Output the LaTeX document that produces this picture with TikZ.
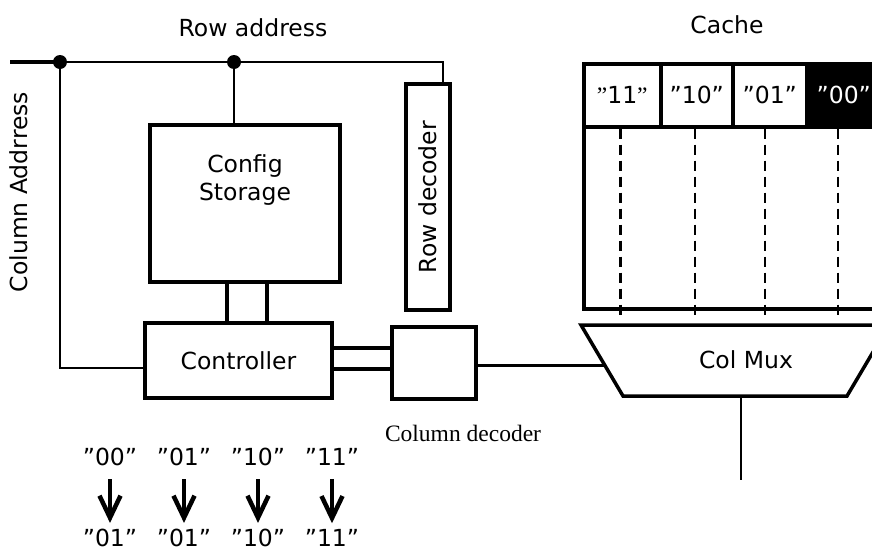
\documentclass[tikz,border=0pt]{standalone}
\usepackage{fontspec}
\setmainfont{DejaVu Sans}
\newfontfamily\serifface{Liberation Serif}
\usetikzlibrary{arrows.meta,positioning,shapes.geometric}

\begin{document}
\begin{tikzpicture}[
  x=1pt, y=-1pt,
  font=\fontsize{23.5}{28}\selectfont,
  box/.style  ={rectangle, draw, line width=3.5pt, inner sep=0pt, align=center},
  cell/.style ={rectangle, draw, line width=3.5pt, minimum height=63pt, inner sep=0pt,
                anchor=north west},
  wire/.style ={line width=2pt},
  bus/.style  ={line width=3.5pt},
  jdot/.style ={circle, fill, inner sep=0pt, minimum size=14pt},
  code/.style ={inner sep=1pt},
  remap/.style={-{Straight Barb[length=22pt,width=21pt,line width=4.5pt]}, line width=4.5pt,
                shorten <=12pt, shorten >=5pt}
]
\clip (0,0) rectangle (872,552);

% labels
\node (rowlbl)   at (253,28) {Row address};
\node (cachelbl) at (727,25) {Cache};
\node[rotate=90] (collbl) at (19,192) {Column Addrress};

% blocks
\node[box, minimum width=190pt, minimum height=157pt,
      label={[align=center, yshift=23pt]center:Config\\Storage}] (config) at (245,203.5) {};
\node[box, minimum width=187pt, minimum height=75pt] (ctrl) at (238.5,360.5) {Controller};
\node[box, minimum width=44pt, minimum height=226pt,
      label={[rotate=90]center:Row decoder}] (rowdec) at (428,197) {};
\node[box, minimum width=84pt, minimum height=72pt] (coldec) at (434,363) {};
\node[font=\serifface\fontsize{23.5}{28}\selectfont] (coldeclbl) at (463,433) {Column decoder};

% cache
\node[box, minimum width=310pt, minimum height=182pt, anchor=north west] (array) at (582,125) {};
\node[cell, minimum width=77pt] (c11) at (582,62) {{\serifface”}11{\serifface”}};
\node[cell, minimum width=72pt] (c10) at (659,62) {”10”};
\node[cell, minimum width=74pt] (c01) at (731,62) {”01”};
\node[cell, minimum width=74pt, fill=black, text=white] (c00) at (805,62) {”00”};

% column mux
\coordinate (mtl) at (581,325);
\coordinate (mtr) at (889,325);
\coordinate (mbr) at (847,396);
\coordinate (mbl) at (623,396);
\coordinate (muxin) at (604,365);
\draw[bus, line join=miter] (mtl) -- (mtr) -- (mbr) -- (mbl) -- cycle;
\node (mux) at (746,360) {Col Mux};

\foreach \c/\dx in {c11/-2, c10/-2, c01/-5, c00/-6}
  \draw[line width=2.5pt, dash pattern=on 10pt off 6pt]
    ([xshift=\dx pt]\c.south) -- ([xshift=\dx pt, yshift=6pt]\c.south |- mtl);

% address lines
\coordinate (busin) at (10,62);
\node[jdot] (j1) at (60,62) {};
\node[jdot] (j2) at (234,62) {};
\draw[bus]  (busin) -- (j1.center);
\draw[wire] (j1.center) -| ([xshift=-9pt]rowdec.north east);
\draw[wire] (j2.center) -- (j2.center |- config.north);
\draw[wire] (j1.center) |- ([yshift=-7pt]ctrl.west);

\draw[bus] ([xshift=-18pt]config.south) -- ([xshift=-18pt]config.south |- ctrl.north);
\draw[bus] ([xshift=22pt]config.south)  -- ([xshift=22pt]config.south |- ctrl.north);
\draw[bus] ([yshift=12.5pt]ctrl.east) -- ([yshift=12.5pt]ctrl.east -| coldec.west);
\draw[bus] ([yshift=-8.5pt]ctrl.east) -- ([yshift=-8.5pt]ctrl.east -| coldec.west);
\draw[line width=3pt] (coldec.east |- muxin) -- (muxin);

\coordinate (muxout) at (741,480);
\draw[wire] (muxout |- mbl) -- (muxout);

% remapping
\foreach \a/\b [count=\i] in {00/01, 01/01, 10/10, 11/11} {
  \node[code] (old\i) at ({36+74*\i},457) {”\a”};
  \node[code] (new\i) at ({36+74*\i},538) {”\b”};
  \draw[remap] (old\i) -- (new\i);
}
\end{tikzpicture}
\end{document}
